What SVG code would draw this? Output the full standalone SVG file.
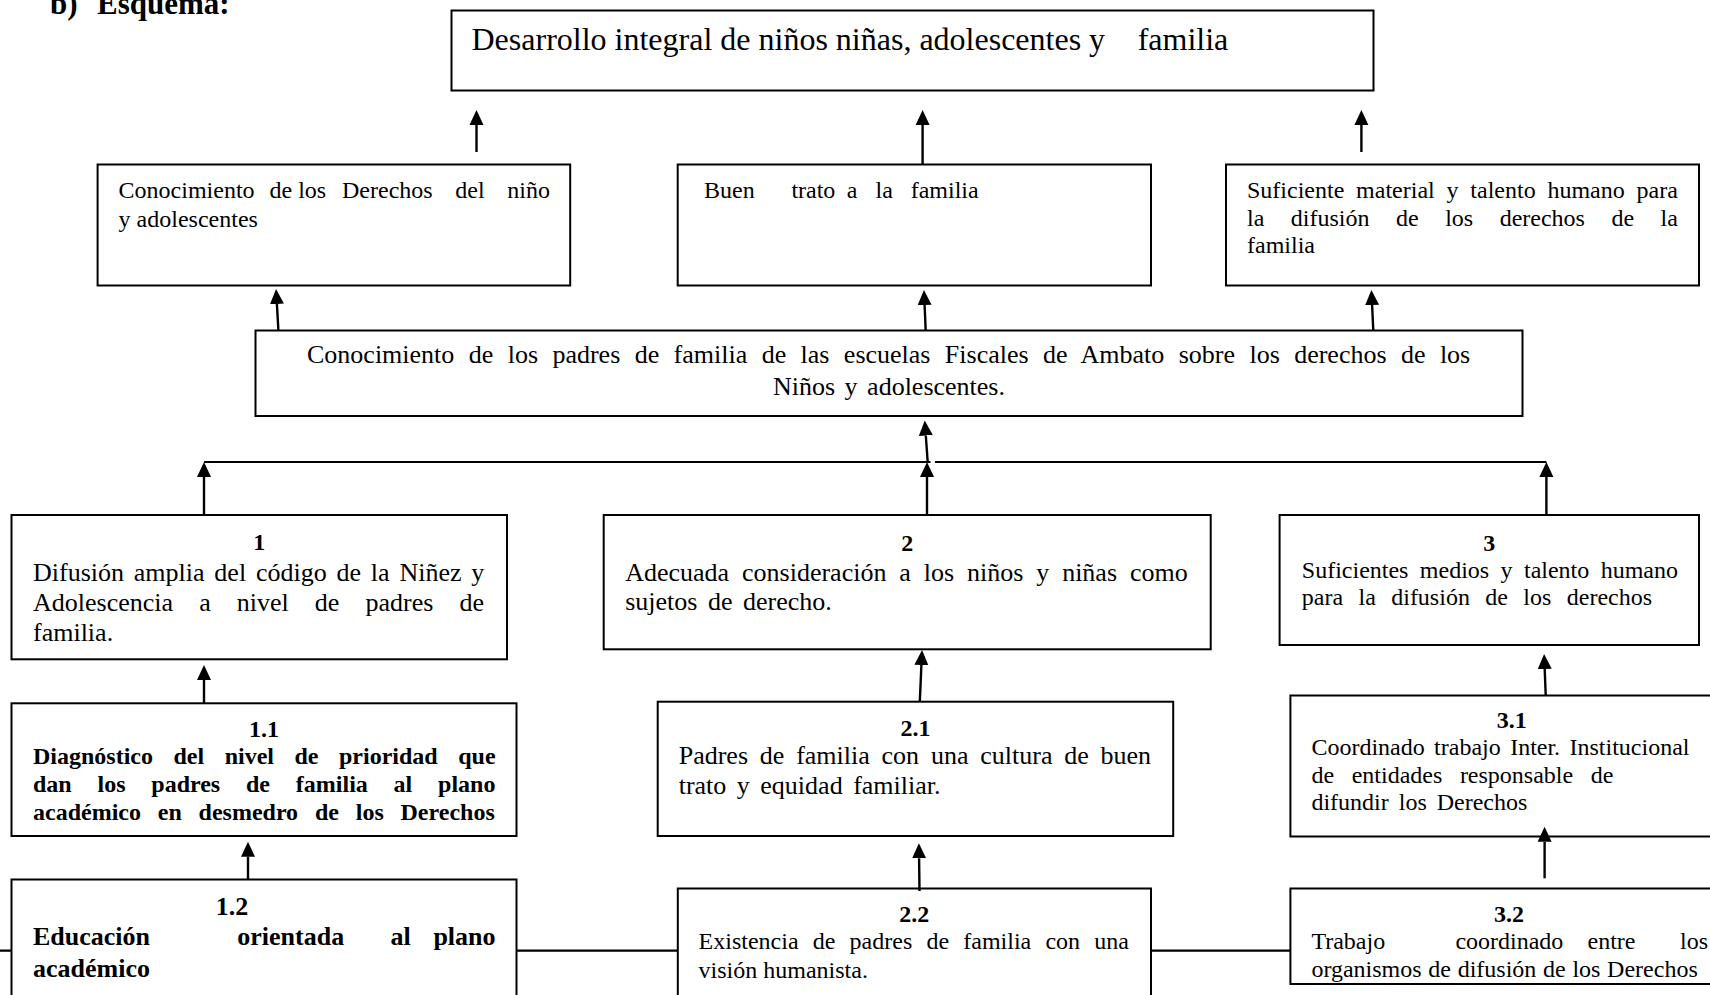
<svg xmlns="http://www.w3.org/2000/svg" width="1710" height="995" viewBox="0 0 1710 995">
<defs>
<marker id="ah" markerUnits="userSpaceOnUse" markerWidth="16" markerHeight="16" refX="0" refY="7" orient="auto" viewBox="0 0 16 14">
<path d="M0,0 L15,7 L0,14 z" fill="#000"/>
</marker>
<style>
.box{fill:#fff;stroke:#000;stroke-width:2}
.ln{fill:none;stroke:#000;stroke-width:2.2}
.arr{fill:none;stroke:#000;stroke-width:2.4;marker-end:url(#ah)}
.t{font-family:"Liberation Serif","Times New Roman",serif;fill:#000}
.b{font-weight:bold}
.s24{font-size:24px}
.s26{font-size:26px}
.c{text-anchor:middle}
</style>
</defs>
<rect width="1710" height="995" fill="#fff"/>

<g id="title">
<text class="t b" font-size="31" y="14"><tspan x="50">b)</tspan><tspan x="97">Esquema:</tspan></text>
</g>

<g id="node-top">
<rect class="box" x="451.5" y="10.5" width="922" height="80"/>
<text class="t" font-size="32" y="50"><tspan x="471.5">Desarrollo integral de niños niñas, adolescentes y</tspan><tspan x="1137.7">familia</tspan></text>
</g>

<g id="node-a">
<rect class="box" x="97.6" y="164.5" width="472.6" height="121"/>
<text class="t s24" y="198"><tspan x="118.6">Conocimiento</tspan><tspan x="269.5">de los</tspan><tspan x="342">Derechos</tspan><tspan x="455.3">del</tspan><tspan x="507.3">niño</tspan></text>
<text class="t s24" x="118.6" y="226.5">y adolescentes</text>
</g>

<g id="node-b">
<rect class="box" x="677.7" y="164.5" width="473.3" height="121"/>
<text class="t s24" y="198"><tspan x="704">Buen</tspan><tspan x="791.4">trato</tspan><tspan x="846.8">a</tspan><tspan x="875.5">la</tspan><tspan x="910.7">familia</tspan></text>
</g>

<g id="node-c">
<rect class="box" x="1226" y="164.5" width="473" height="121"/>
<text class="t s24" x="1247" y="198" style="word-spacing:5.8px">Suficiente material y talento humano para</text>
<text class="t s24" x="1247" y="225.5" style="word-spacing:20.5px">la difusión de los derechos de la</text>
<text class="t s24" x="1247" y="253">familia</text>
</g>

<g id="node-d">
<rect class="box" x="255.5" y="330.5" width="1267" height="85.5"/>
<text class="t s26" x="307" y="363.3" style="word-spacing:7.9px">Conocimiento de los padres de familia de las escuelas Fiscales de Ambato sobre los derechos de los</text>
<text class="t s26 c" x="889" y="395" style="word-spacing:3px">Niños y adolescentes.</text>
</g>

<g id="node-1">
<rect class="box" x="11.5" y="515" width="495.5" height="144.3"/>
<text class="t b s24 c" x="259.3" y="550">1</text>
<text class="t s26" x="33" y="580.7" style="word-spacing:3.3px">Difusión amplia del código de la Niñez y</text>
<text class="t s26" x="33" y="610.6" style="word-spacing:19.6px">Adolescencia a nivel de padres de</text>
<text class="t s26" x="33" y="640.6">familia.</text>
</g>

<g id="node-1-1">
<rect class="box" x="11.5" y="703.3" width="505" height="132.7"/>
<text class="t b s24 c" x="264" y="736.7">1.1</text>
<text class="t b s24" x="33" y="764" style="word-spacing:14.5px">Diagnóstico del nivel de prioridad que</text>
<text class="t b s24" x="33" y="791.8" style="word-spacing:19.8px">dan los padres de familia al plano</text>
<text class="t b s24" x="33" y="820" style="word-spacing:10.8px">académico en desmedro de los Derechos</text>
</g>

<g id="node-1-2">
<rect class="box" x="11.5" y="879.5" width="505" height="200"/>
<text class="t b s26 c" x="232" y="915">1.2</text>
<text class="t b s26" y="945"><tspan x="33">Educación</tspan><tspan x="237.3">orientada</tspan><tspan x="390.4">al</tspan><tspan x="433.4">plano</tspan></text>
<text class="t b s26" x="33" y="976.5">académico</text>
</g>

<g id="node-2">
<rect class="box" x="603.7" y="515" width="607" height="134.3"/>
<text class="t b s24 c" x="907.2" y="550.7">2</text>
<text class="t s26" x="625.2" y="580.7" style="word-spacing:6.4px">Adecuada consideración a los niños y niñas como</text>
<text class="t s26" x="625.2" y="610" style="word-spacing:4px">sujetos de derecho.</text>
</g>

<g id="node-2-1">
<rect class="box" x="657.7" y="701.7" width="515.5" height="134.3"/>
<text class="t b s24 c" x="915.4" y="736">2.1</text>
<text class="t s26" x="678.7" y="764" style="word-spacing:5.3px">Padres de familia con una cultura de buen</text>
<text class="t s26" x="678.7" y="794" style="word-spacing:4px">trato y equidad familiar.</text>
</g>

<g id="node-2-2">
<rect class="box" x="677.8" y="888.5" width="473.2" height="200"/>
<text class="t b s24 c" x="914.3" y="921.7">2.2</text>
<text class="t s24" x="698.6" y="949.3" style="word-spacing:8.2px">Existencia de padres de familia con una</text>
<text class="t s24" x="698.6" y="978.3">visión humanista.</text>
</g>

<g id="node-3">
<rect class="box" x="1279.6" y="515" width="419.4" height="130"/>
<text class="t b s24 c" x="1489.3" y="550.7">3</text>
<text class="t s24" x="1301.8" y="578.3" style="word-spacing:5.4px">Suficientes medios y talento humano</text>
<text class="t s24" x="1301.8" y="605" style="word-spacing:9.4px">para la difusión de los derechos</text>
</g>

<g id="node-3-1">
<rect class="box" x="1290.4" y="695.5" width="500" height="141"/>
<text class="t b s24 c" x="1511.8" y="728.3">3.1</text>
<text class="t s24" x="1311.4" y="755" style="word-spacing:3.4px">Coordinado trabajo Inter. Institucional</text>
<text class="t s24" x="1311.4" y="783" style="word-spacing:11.6px">de entidades responsable de</text>
<text class="t s24" x="1311.4" y="810" style="word-spacing:4px">difundir los Derechos</text>
</g>

<g id="node-3-2">
<rect class="box" x="1290.4" y="888.5" width="500" height="95.5"/>
<text class="t b s24 c" x="1509" y="921.7">3.2</text>
<text class="t s24" y="949.3"><tspan x="1311.4">Trabajo</tspan><tspan x="1455.4">coordinado</tspan><tspan x="1587.5">entre</tspan><tspan x="1680">los</tspan></text>
<text class="t s24" x="1311.4" y="977.3" style="word-spacing:0.7px">organismos de difusión de los Derechos</text>
</g>

<g id="connectors">
<path class="arr" d="M476.5,152 V125"/>
<path class="arr" d="M922.6,164 V125"/>
<path class="arr" d="M1361.4,152 V125"/>
<path class="arr" d="M278.4,330.5 L276.9,304"/>
<path class="arr" d="M925.7,330.5 L924.6,305"/>
<path class="arr" d="M1373.3,330.5 L1372.1,305"/>
<path class="ln" d="M204,462 H930.5 M935,462 H1546.4"/>
<path class="arr" d="M927.7,462 L925.8,435.5"/>
<path class="arr" d="M204,515 V477"/>
<path class="arr" d="M927,515 V477"/>
<path class="arr" d="M1546.4,515 V477"/>
<path class="arr" d="M204,703 V680"/>
<path class="arr" d="M248,879 V856.7"/>
<path class="arr" d="M919.8,701.7 L921.4,665"/>
<path class="arr" d="M919.5,891 L919.1,858.3"/>
<path class="arr" d="M1545.7,695 L1544.7,669"/>
<path class="arr" d="M1544.6,878.3 V841.7"/>
<path class="ln" d="M0,950.7 H11.5 M516.6,950.7 H677.8 M1151,950.7 H1290.4"/>
</g>
</svg>
